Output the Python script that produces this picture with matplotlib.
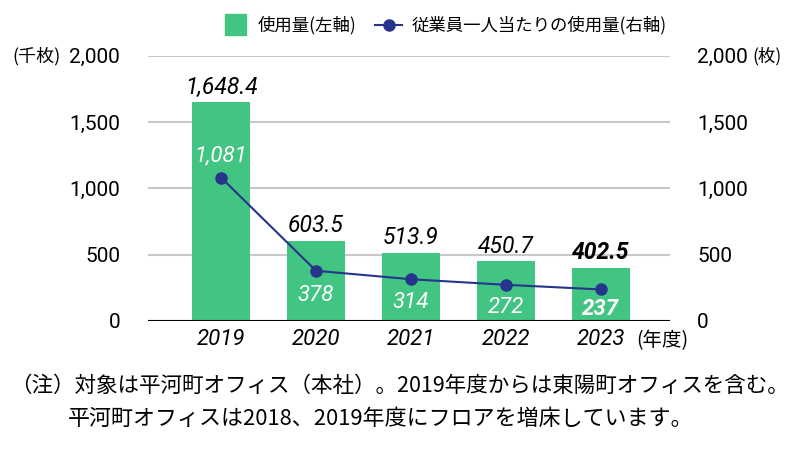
import numpy as np
import matplotlib.pyplot as plt

plt.rcParams['font.family'] = ['Noto Sans CJK JP', 'DejaVu Sans']
num_font = ['Roboto', 'DejaVu Sans']

# データ
years = ['2019', '2020', '2021', '2022', '2023']
usage = [1648.4, 603.5, 513.9, 450.7, 402.5]        # 千枚
per_person = [1081, 378, 314, 272, 237]             # 枚
usage_labels = ['1,648.4', '603.5', '513.9', '450.7', '402.5']
per_labels = ['1,081', '378', '314', '272', '237']
ticks = [0, 500, 1000, 1500, 2000]
tick_labels = ['0', '500', '1,000', '1,500', '2,000']

green = '#42c482'
navy = '#27348b'

fig = plt.figure(figsize=(8, 4.5), dpi=100)
ax = fig.add_axes([0.185, 0.287, 0.6525, 0.589])
ax2 = ax.twinx()

x = np.arange(len(years))
ax.bar(x, usage, width=0.61, color=green, zorder=2)
ax.set_ylim(0, 2000)
ax.set_xlim(-0.77, 4.73)
ax.set_yticks(ticks)
ax.set_yticklabels(tick_labels, family=num_font, fontsize=15)
ax.grid(axis='y', color='#c8c8c8', linewidth=1.5, zorder=0)
ax.axhline(0, color='black', linewidth=1.5, zorder=3)
ax.set_xticks(x)
ax.set_xticklabels(years, family=num_font, fontstyle='italic', fontsize=16)
for s in ax.spines.values():
    s.set_visible(False)
for s in ax2.spines.values():
    s.set_visible(False)
ax.tick_params(axis='x', length=0, pad=6)
ax.tick_params(axis='y', length=0, pad=20)

ax2.plot(x, per_person, color=navy, linewidth=1.5, marker='o', markersize=8, zorder=4)
ax2.set_ylim(0, 2000)
ax2.set_yticks(ticks)
ax2.set_yticklabels(tick_labels, family=num_font, fontsize=15)
ax2.tick_params(axis='y', length=0, pad=19.5)

# 棒の値ラベル
for i, (v, lab) in enumerate(zip(usage, usage_labels)):
    w = 'bold' if i == 4 else 'normal'
    ax.annotate(lab, (i, v), xytext=(0, 15), textcoords='offset pixels',
                ha='center', va='center', fontsize=16.5, family=num_font,
                fontstyle='italic', fontweight=w, zorder=5)

# 折れ線の値ラベル
offsets = [22, -25, -23, -23, -20]
for i, (v, lab) in enumerate(zip(per_person, per_labels)):
    w = 'bold' if i == 4 else 'normal'
    ax2.annotate(lab, (i, v), xytext=(0, offsets[i]), textcoords='offset pixels',
                 ha='center', va='center', fontsize=16, color='white',
                 family=num_font, fontstyle='italic', fontweight=w, zorder=5)

# 単位
fig.text(0.016, 0.876, '(千枚)', fontsize=13, va='center')
fig.text(0.94, 0.876, '(枚)', fontsize=12.5, va='center')
fig.text(0.795, 0.243, '(年度)', fontsize=14, va='center')

# 凡例
fig.patches.append(plt.Rectangle((0.281, 0.922), 0.026, 0.047, color=green,
                                 transform=fig.transFigure))
fig.text(0.322, 0.944, '使用量(左軸)', fontsize=12.5, va='center')
fig.lines.append(plt.Line2D([0.469, 0.503], [0.944, 0.944], color=navy,
                            linewidth=1.5, transform=fig.transFigure))
fig.lines.append(plt.Line2D([0.486], [0.944], color=navy, marker='o',
                            markersize=8, transform=fig.transFigure))
fig.text(0.515, 0.944, '従業員一人当たりの使用量(右軸)', fontsize=12.5, va='center')

# 注記
fig.text(0.012, 0.143, '（注）対象は平河町オフィス（本社）。2019年度からは東陽町オフィスを含む。',
         fontsize=15.5, va='center')
fig.text(0.085, 0.068, '平河町オフィスは2018、2019年度にフロアを増床しています。',
         fontsize=15.8, va='center')

fig.savefig('out.png', dpi=100)
